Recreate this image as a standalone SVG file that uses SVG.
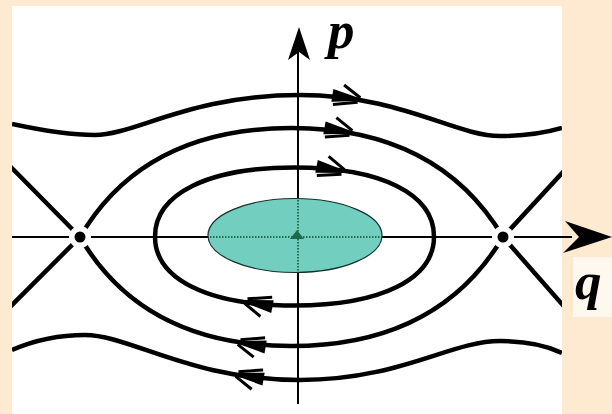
<svg xmlns="http://www.w3.org/2000/svg" width="612" height="414" viewBox="0 0 612 414">
<style>
.orbit{fill:none;stroke:#000;stroke-width:4.5}
.axis{stroke:#000;stroke-width:2;fill:none}
.dotted{fill:none;stroke:#23704f;stroke-width:2;stroke-dasharray:1.5 1.5}
.lbl{font-family:"Liberation Serif","Times New Roman",serif;font-weight:bold;font-style:italic;font-size:53px;fill:#000}
</style>
<defs>
<clipPath id="plot"><rect x="12" y="6" width="550" height="408"/></clipPath>
<g id="harp">
<path d="M5,0 L-30,-6.5 L-30,6.5 Z" fill="#000"/>
<path d="M-2,-2 L-20,-12 M-4,3 L-28,9" stroke="#000" stroke-width="3" fill="none"/>
</g>
</defs>
<rect width="612" height="414" fill="#FDEAD0"/>
<rect x="12" y="6" width="550" height="408" fill="#fff"/>
<rect x="573" y="257" width="39" height="60" fill="#FFF8EE"/>
<g id="axes">
<line class="axis" x1="12" y1="237" x2="572" y2="237"/>
<path d="M612,237 L565,221 L579,237 L563,253 Z" fill="#000"/>
<line class="axis" x1="298" y1="44" x2="298" y2="404" stroke-width="2.5"/>
<path d="M299,27 L310,60 L299,52 L288,60 Z" fill="#000"/>
</g>
<g id="orbits" clip-path="url(#plot)">
<path class="orbit" d="M12,124 C40,130 70,135 95,135 C135,135 190,95 300,95 C400,95 455,136 500,136 C525,136 545,133 562,128"/>
<path class="orbit" d="M80,237 C122,165 193,128 291.5,128 C390,128 460,165 503,237"/>
<path class="orbit" d="M155,236.5 C155,193.7 208,167.5 294.5,167.5 C381,167.5 434,193.7 434,236.5 C434,279.3 381,305.5 294.5,305.5 C208,305.5 155,279.3 155,236.5 Z"/>
<path class="orbit" d="M80,237 C122,309 193,346 291.5,346 C390,346 460,309 503,237"/>
<path class="orbit" d="M12,350 C35,340 60,335 85,335 C130,335 190,380 300,380 C400,380 450,341 500,341 C530,341 548,346 562,353"/>
<path class="orbit" d="M80,237 L0,156 M80,237 L0,317 M503,237 L575,159 M503,237 L575,319"/>
</g>
<g id="saddles">
<circle cx="80" cy="237" r="11" fill="#fff"/>
<circle cx="80" cy="237" r="5.5" fill="#000"/>
<circle cx="503" cy="237" r="11" fill="#fff"/>
<circle cx="503" cy="237" r="5.5" fill="#000"/>
</g>
<g id="arrows">
<use href="#harp" transform="translate(362,100) rotate(9)"/>
<use href="#harp" transform="translate(354,133) rotate(10)"/>
<use href="#harp" transform="translate(346,172) rotate(11)"/>
<use href="#harp" transform="translate(243,301) rotate(190.6)"/>
<use href="#harp" transform="translate(236,342) rotate(189.6)"/>
<use href="#harp" transform="translate(234,374) rotate(189.8)"/>
</g>
<g id="region">
<ellipse cx="295" cy="235.5" rx="87" ry="37" fill="#72CFC0" stroke="#12302a" stroke-width="1.2"/>
<line class="dotted" x1="210" y1="237" x2="380" y2="237"/>
<line class="dotted" x1="298" y1="200" x2="298" y2="271"/>
<path d="M297,230 L304,239 L290,239 Z" fill="#1f6a4c"/>
</g>
<g id="labels">
<text class="lbl" x="328" y="48">p</text>
<text class="lbl" x="575" y="299">q</text>
</g>
</svg>
